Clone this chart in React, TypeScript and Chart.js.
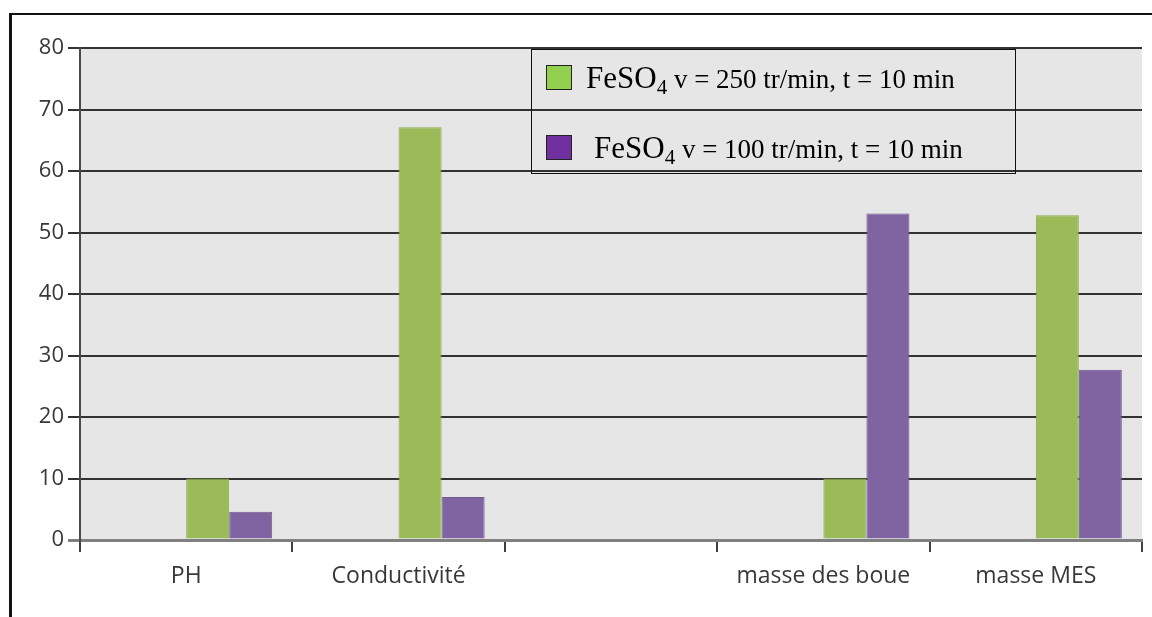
import React, { useEffect, useRef } from "react";
import { Chart, registerables } from "chart.js";

Chart.register(...registerables);

const categories = ["PH", "Conductivité", "", "masse des boue", "masse MES"];
const emptySeries = [null, null, null, null, null];
const series250 = [10, 67.1, null, 10, 52.8];
const series100 = [4.6, 7, null, 53.1, 27.7];
const yTicks = [0, 10, 20, 30, 40, 50, 60, 70, 80];

const legendItems = [
  { fill: "#92d050", rest: "v = 250 tr/min, t = 10 min", dx: 0 },
  { fill: "#7030a0", rest: "v = 100 tr/min, t = 10 min", dx: 8 },
];

const plotBg = {
  id: "plotBg",
  beforeDraw(chart: any) {
    const { ctx, chartArea } = chart;
    if (!chartArea) return;
    ctx.save();
    ctx.fillStyle = "#e6e6e6";
    ctx.fillRect(chartArea.left, chartArea.top, chartArea.right - chartArea.left, chartArea.bottom - chartArea.top);
    ctx.restore();
  },
};

export default function App() {
  const ref = useRef<HTMLCanvasElement | null>(null);

  useEffect(() => {
    if (!ref.current) return;
    const chart = new Chart(ref.current, {
      type: "bar",
      data: {
        labels: categories,
        datasets: [
          { label: "a", data: emptySeries, backgroundColor: "transparent" },
          { label: "b", data: emptySeries, backgroundColor: "transparent" },
          {
            label: "FeSO4 v = 250 tr/min, t = 10 min",
            data: series250,
            backgroundColor: "#9bbb59",
            borderColor: "#8aab4c",
            borderWidth: 1,
          },
          {
            label: "FeSO4 v = 100 tr/min, t = 10 min",
            data: series100,
            backgroundColor: "#8064a2",
            borderColor: "#735894",
            borderWidth: 1,
          },
        ],
      },
      options: {
        responsive: false,
        animation: false,
        categoryPercentage: 0.81,
        barPercentage: 1,
        layout: { padding: { top: 48, right: 10, left: 0, bottom: 0 } },
        plugins: { legend: { display: false }, tooltip: { enabled: false } },
        scales: {
          x: {
            afterFit(scale: any) {
              scale.height = 77;
            },
            grid: {
              offset: true,
              drawOnChartArea: false,
              drawTicks: true,
              tickLength: 12,
              color: "#404040",
              lineWidth: 2,
            },
            border: { display: true, color: "#808080", width: 3 },
            ticks: {
              padding: 11,
              color: "#383838",
              font: { family: "'Open Sans'", size: 23 },
              maxRotation: 0,
              autoSkip: false,
            },
          },
          y: {
            min: 0,
            max: 80,
            afterFit(scale: any) {
              scale.width = 80;
            },
            afterBuildTicks(scale: any) {
              scale.ticks = yTicks.map((v) => ({ value: v }));
            },
            grid: {
              tickLength: 12,
              lineWidth: (c: any) => (c.tick && c.tick.value === 0 ? 3 : 2),
              color: (c: any) => (c.tick && c.tick.value === 0 ? "#808080" : "#333333"),
            },
            border: { display: true, color: "#4a4a4a", width: 2 },
            ticks: {
              padding: 4,
              color: "#383838",
              font: { family: "'Open Sans'", size: 22 },
            },
          },
        },
      },
      plugins: [plotBg],
    });
    return () => chart.destroy();
  }, []);

  return (
    <div>
      <canvas
        ref={ref}
        width={1152}
        height={617}
        style={{ position: "fixed", left: 0, top: 0, width: 1152, height: 617, background: "#fff" }}
      />
      <div style={{ position: "fixed", left: 10, top: 13, width: 1142, height: 2, background: "#111" }} />
      <div style={{ position: "fixed", left: 9, top: 13, width: 2.5, height: 604, background: "#111" }} />
      <div
        style={{
          position: "fixed",
          left: 531,
          top: 49,
          width: 483,
          height: 123,
          border: "1.5px solid #111",
          fontFamily: "'Liberation Serif', 'Times New Roman', serif",
          color: "#000",
        }}
      >
        {legendItems.map((it, i) => (
          <div key={i} style={{ position: "absolute", left: 14, top: 14 + i * 70, height: 30, whiteSpace: "nowrap" }}>
            <div
              style={{
                position: "absolute",
                left: 0,
                top: 1,
                width: 24,
                height: 23,
                background: it.fill,
                border: "1.5px solid #222",
              }}
            />
            <div style={{ position: "absolute", left: 40 + it.dx, top: -6, lineHeight: "40px" }}>
              <span style={{ fontSize: 31 }}>FeSO</span>
              <span style={{ fontSize: 21, position: "relative", top: 6 }}>4</span>
              <span style={{ fontSize: 27 }}> {it.rest}</span>
            </div>
          </div>
        ))}
      </div>
    </div>
  );
}
